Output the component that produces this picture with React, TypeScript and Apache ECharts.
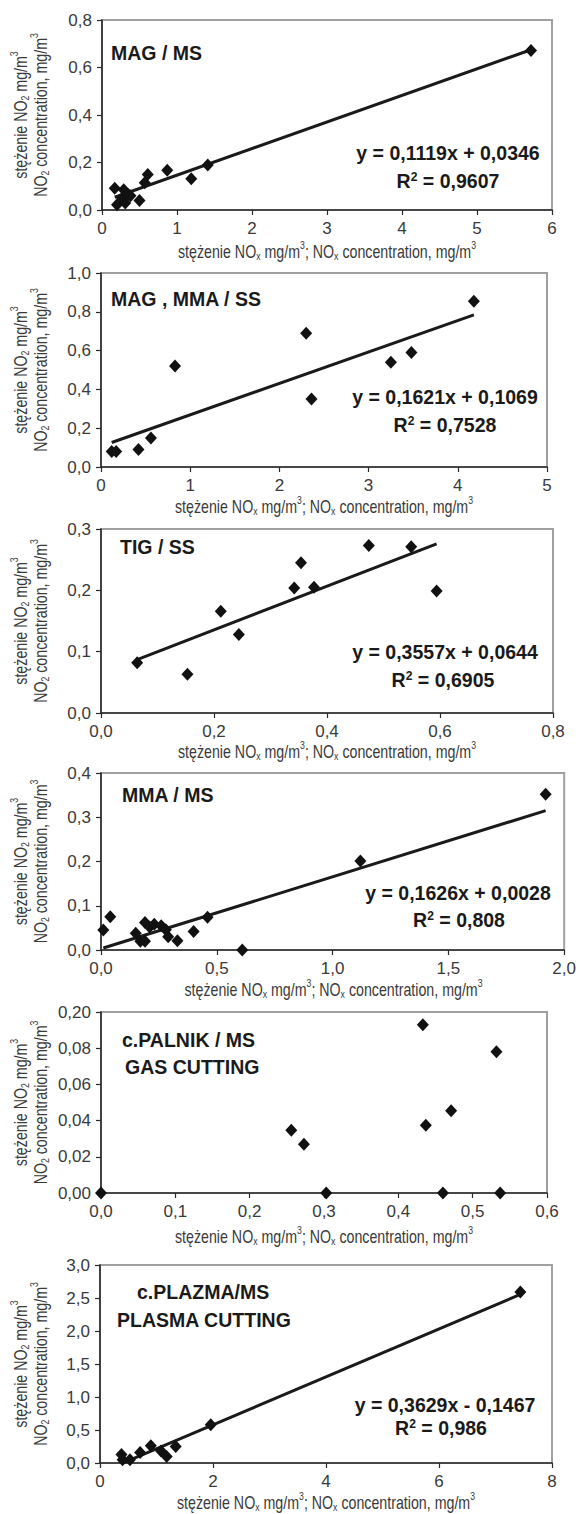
import React, { useEffect, useRef } from "react";
import * as echarts from "echarts";

// ---------- DATA ----------
// Panel 1: MAG / MS
const magMsNOx = [0.17, 0.2, 0.27, 0.29, 0.31, 0.35, 0.38, 0.5, 0.57, 0.61, 0.87, 1.19, 1.41, 5.72];
const magMsNO2 = [0.092, 0.022, 0.05, 0.085, 0.03, 0.065, 0.06, 0.04, 0.115, 0.15, 0.167, 0.132, 0.19, 0.672];
const magMsFit = [0.1119, 0.0346];
// Panel 2: MAG, MMA / SS
const magMmaSsNOx = [0.12, 0.17, 0.42, 0.56, 0.83, 2.3, 2.36, 3.25, 3.48, 4.18];
const magMmaSsNO2 = [0.08, 0.08, 0.09, 0.15, 0.52, 0.69, 0.35, 0.54, 0.59, 0.855];
const magMmaSsFit = [0.1621, 0.1069];
// Panel 3: TIG / SS
const tigSsNOx = [0.064, 0.153, 0.212, 0.244, 0.342, 0.354, 0.377, 0.474, 0.549, 0.594];
const tigSsNO2 = [0.082, 0.063, 0.166, 0.128, 0.204, 0.245, 0.205, 0.273, 0.271, 0.199];
const tigSsFit = [0.3557, 0.0644];
// Panel 4: MMA / MS
const mmaMsNOx = [0.01, 0.04, 0.15, 0.17, 0.19, 0.19, 0.21, 0.23, 0.26, 0.28, 0.29, 0.33, 0.4, 0.46, 0.61, 1.12, 1.92];
const mmaMsNO2 = [0.045, 0.075, 0.038, 0.02, 0.062, 0.02, 0.052, 0.058, 0.055, 0.046, 0.03, 0.021, 0.042, 0.074, 0.0, 0.201, 0.352];
const mmaMsFit = [0.1626, 0.0028];
// Panel 5: c.PALNIK / MS (gas cutting)
const palnikNOx = [0.0, 0.256, 0.273, 0.303, 0.433, 0.437, 0.46, 0.471, 0.532, 0.537];
const palnikNO2 = [0.0, 0.0346, 0.027, 0.0, 0.093, 0.0375, 0.0, 0.0455, 0.078, 0.0];
// Panel 6: c.PLAZMA / MS (plasma cutting)
const plazmaNOx = [0.38, 0.4, 0.53, 0.71, 0.9, 1.08, 1.18, 1.34, 1.96, 7.44];
const plazmaNO2 = [0.13, 0.05, 0.05, 0.16, 0.26, 0.18, 0.1, 0.25, 0.58, 2.59];
const plazmaFit = [0.3629, -0.1467];

// Tick labels
const magMsXTicks = ["0", "1", "2", "3", "4", "5", "6"];
const magMsYTicks = ["0,0", "0,2", "0,4", "0,6", "0,8"];
const magMmaSsXTicks = ["0", "1", "2", "3", "4", "5"];
const magMmaSsYTicks = ["0,0", "0,2", "0,4", "0,6", "0,8", "1,0"];
const tigSsXTicks = ["0,0", "0,2", "0,4", "0,6", "0,8"];
const tigSsYTicks = ["0,0", "0,1", "0,2", "0,3"];
const mmaMsXTicks = ["0,0", "0,5", "1,0", "1,5", "2,0"];
const mmaMsYTicks = ["0,0", "0,1", "0,2", "0,3", "0,4"];
const palnikXTicks = ["0,0", "0,1", "0,2", "0,3", "0,4", "0,5", "0,6"];
const palnikYTicks = ["0,00", "0,02", "0,04", "0,06", "0,08", "0,20"];
const plazmaXTicks = ["0", "2", "4", "6", "8"];
const plazmaYTicks = ["0,0", "0,5", "1,0", "1,5", "2,0", "2,5", "3,0"];

// Texts
const panelTitles = [
  ["MAG / MS"],
  ["MAG , MMA / SS"],
  ["TIG / SS"],
  ["MMA / MS"],
  ["c.PALNIK / MS", "GAS CUTTING"],
  ["c.PLAZMA/MS", "PLASMA CUTTING"],
];
const equations = [
  "y = 0,1119x + 0,0346",
  "y = 0,1621x + 0,1069",
  "y = 0,3557x + 0,0644",
  "y = 0,1626x + 0,0028",
  "",
  "y = 0,3629x - 0,1467",
];
const rSquared = ["0,9607", "0,7528", "0,6905", "0,808", "", "0,986"];
const xTitle = "stężenie NO{sub|x} mg/m{sup|3}; NO{sub|x} concentration, mg/m{sup|3}";
const yTitle1 = "stężenie NO{sub|2} mg/m{sup|3}";
const yTitle2 = "NO{sub|2} concentration, mg/m{sup|3}";

// ---------- LAYOUT ----------
const NARROW = "'Liberation Sans Narrow', 'Arial Narrow', 'Liberation Sans', Arial, sans-serif";
const BOLD = "'Liberation Sans', Arial, sans-serif";
const TEXT_COLOR = "#3a3a3a";
const NARROW_SCALE = 0.79;
const BOLD_SCALE = 0.93;

type Panel = {
  xs: number[];
  ys: number[];
  fit?: number[];
  xMax: number;
  xInt: number;
  yMax: number;
  yInt: number;
  xTicks: string[];
  yTicks: string[];
  grid: { left: number; top: number; width: number; height: number };
  titlePos: number[][];
  eqPos?: number[][];
  xTitleY: number;
};

const panels: Panel[] = [
  {
    xs: magMsNOx, ys: magMsNO2, fit: magMsFit, xMax: 6, xInt: 1, yMax: 0.8, yInt: 0.2,
    xTicks: magMsXTicks, yTicks: magMsYTicks,
    grid: { left: 102, top: 20, width: 450, height: 190 },
    titlePos: [[111, 53]], eqPos: [[448, 153], [448, 181]], xTitleY: 251,
  },
  {
    xs: magMmaSsNOx, ys: magMmaSsNO2, fit: magMmaSsFit, xMax: 5, xInt: 1, yMax: 1.0, yInt: 0.2,
    xTicks: magMmaSsXTicks, yTicks: magMmaSsYTicks,
    grid: { left: 101, top: 273, width: 446, height: 194 },
    titlePos: [[111, 299]], eqPos: [[445, 397], [445, 425]], xTitleY: 506,
  },
  {
    xs: tigSsNOx, ys: tigSsNO2, fit: tigSsFit, xMax: 0.8, xInt: 0.2, yMax: 0.3, yInt: 0.1,
    xTicks: tigSsXTicks, yTicks: tigSsYTicks,
    grid: { left: 101, top: 529, width: 452, height: 184 },
    titlePos: [[120, 547]], eqPos: [[445, 652], [443, 680]], xTitleY: 751,
  },
  {
    xs: mmaMsNOx, ys: mmaMsNO2, fit: mmaMsFit, xMax: 2.0, xInt: 0.5, yMax: 0.4, yInt: 0.1,
    xTicks: mmaMsXTicks, yTicks: mmaMsYTicks,
    grid: { left: 101, top: 773, width: 465, height: 177 },
    titlePos: [[122, 795]], eqPos: [[458, 893], [459, 920]], xTitleY: 989,
  },
  {
    xs: palnikNOx, ys: palnikNO2, xMax: 0.6, xInt: 0.1, yMax: 0.1, yInt: 0.02,
    xTicks: palnikXTicks, yTicks: palnikYTicks,
    grid: { left: 101, top: 1012, width: 446, height: 181 },
    titlePos: [[122, 1040], [125, 1067]], xTitleY: 1236,
  },
  {
    xs: plazmaNOx, ys: plazmaNO2, fit: plazmaFit, xMax: 8, xInt: 2, yMax: 3.0, yInt: 0.5,
    xTicks: plazmaXTicks, yTicks: plazmaYTicks,
    grid: { left: 100, top: 1265, width: 452, height: 198 },
    titlePos: [[137, 1292], [117, 1320]], eqPos: [[445, 1405], [441, 1428]], xTitleY: 1502,
  },
];

const normalRich = {
  sub: { fontSize: 11, lineHeight: 8, verticalAlign: "bottom", fontFamily: NARROW, fill: TEXT_COLOR, color: TEXT_COLOR },
  sup: { fontSize: 11, lineHeight: 8, verticalAlign: "top", fontFamily: NARROW, fill: TEXT_COLOR, color: TEXT_COLOR },
};
const boldRich = {
  sup: { fontSize: 13, fontWeight: "bold", lineHeight: 12, verticalAlign: "top", fontFamily: BOLD, fill: "#1a1a1a", color: "#1a1a1a" },
};

function textEl(x: number, y: number, text: string, opts: any) {
  return {
    type: "text",
    x,
    y,
    rotation: opts.rotation || 0,
    scaleX: opts.scaleX || 1,
    silent: true,
    style: {
      text,
      fill: opts.fill || TEXT_COLOR,
      fontSize: opts.fontSize,
      fontWeight: opts.fontWeight || "normal",
      fontFamily: opts.fontFamily,
      lineHeight: opts.lineHeight || 22,
      align: opts.align || "left",
      verticalAlign: "middle",
      textAlign: opts.align || "left",
      textVerticalAlign: "middle",
      rich: opts.rich,
    },
  };
}

export default function App() {
  const ref = useRef<HTMLDivElement>(null);

  useEffect(() => {
    document.body.style.margin = "0";
    if (!ref.current) return;
    const chart = echarts.init(ref.current, null, { renderer: "svg" });

    const grid: any[] = [];
    const xAxis: any[] = [];
    const yAxis: any[] = [];
    const series: any[] = [];
    const graphic: any[] = [];

    panels.forEach((p, i) => {
      grid.push({ ...p.grid, show: true, borderColor: "#a0a0a0", borderWidth: 2, backgroundColor: "transparent" });
      const axisCommon = {
        gridIndex: i,
        type: "value",
        min: 0,
        splitLine: { show: false },
        axisLine: { show: true, onZero: false, lineStyle: { color: "#2a2a2a", width: 1.6 } },
        axisTick: { show: true, length: 5, lineStyle: { color: "#2a2a2a", width: 1.2 } },
      };
      const labelCommon = { margin: 10, fontSize: 17, fontFamily: NARROW, color: TEXT_COLOR };
      xAxis.push({
        ...axisCommon,
        max: p.xMax,
        interval: p.xInt,
        axisLabel: { ...labelCommon, formatter: (v: number) => p.xTicks[Math.round(v / p.xInt)] ?? "" },
      });
      yAxis.push({
        ...axisCommon,
        max: p.yMax,
        interval: p.yInt,
        axisLabel: { ...labelCommon, formatter: (v: number) => p.yTicks[Math.round(v / p.yInt)] ?? "" },
      });

      if (p.fit) {
        const xmin = Math.min(...p.xs);
        const xmax = Math.max(...p.xs);
        const [a, b] = p.fit;
        series.push({
          type: "line",
          xAxisIndex: i,
          yAxisIndex: i,
          data: [
            [xmin, a * xmin + b],
            [xmax, a * xmax + b],
          ],
          symbol: "none",
          lineStyle: { color: "#1a1a1a", width: 3 },
          z: 2,
          silent: true,
        });
      }
      series.push({
        type: "scatter",
        xAxisIndex: i,
        yAxisIndex: i,
        data: p.xs.map((x, k) => [x, p.ys[k]]),
        symbol: "diamond",
        symbolSize: [12, 13],
        itemStyle: { color: "#111", opacity: 1 },
        z: 3,
        silent: true,
      });

      const boldOpts = { fontSize: 21, fontWeight: "bold", fontFamily: BOLD, fill: "#1a1a1a", scaleX: BOLD_SCALE, lineHeight: 22 };
      panelTitles[i].forEach((t, k) => {
        graphic.push(textEl(p.titlePos[k][0], p.titlePos[k][1], t, boldOpts));
      });
      if (p.eqPos && equations[i]) {
        graphic.push(textEl(p.eqPos[0][0], p.eqPos[0][1], equations[i], { ...boldOpts, align: "center" }));
        graphic.push(
          textEl(p.eqPos[1][0], p.eqPos[1][1], "R{sup|2} = " + rSquared[i], { ...boldOpts, align: "center", rich: boldRich })
        );
      }
      const cx = p.grid.left + p.grid.width / 2;
      const cy = p.grid.top + p.grid.height / 2;
      const normOpts = { fontSize: 18, fontFamily: NARROW, align: "center", rich: normalRich, scaleX: NARROW_SCALE, lineHeight: 22 };
      graphic.push(textEl(cx, p.xTitleY, xTitle, normOpts));
      graphic.push(textEl(20, cy, yTitle1, { ...normOpts, rotation: Math.PI / 2 }));
      graphic.push(textEl(40, cy, yTitle2, { ...normOpts, rotation: Math.PI / 2 }));
    });

    chart.setOption({
      animation: false,
      backgroundColor: "#ffffff",
      grid,
      xAxis,
      yAxis,
      series,
      graphic,
    });

    return () => chart.dispose();
  }, []);

  return <div ref={ref} style={{ width: 579, height: 1514 }} />;
}
